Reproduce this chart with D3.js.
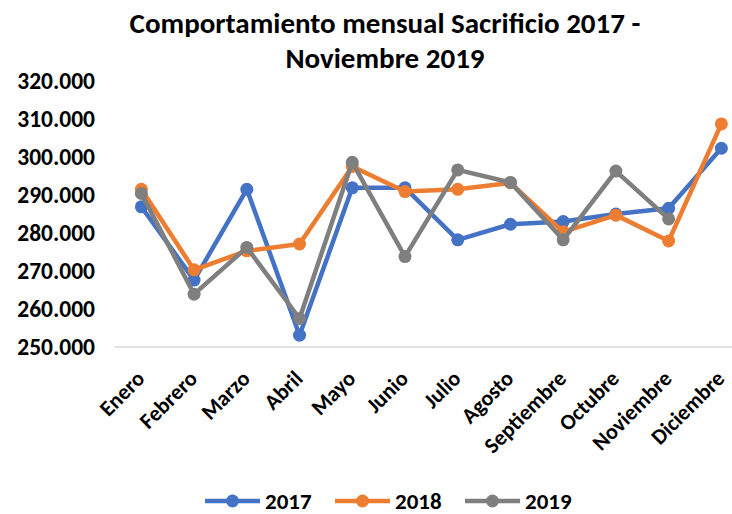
<!DOCTYPE html>
<html lang="es">
<head>
<meta charset="UTF-8">
<title>Sacrificio</title>
<script src="https://cdn.jsdelivr.net/npm/d3@7/dist/d3.min.js"></script>
<style>
  body { margin: 0; background: #fff; }
  text { font-family: Carlito, Lato, "Liberation Sans", sans-serif; font-weight: bold; fill: #000; }
</style>
</head>
<body>
<svg width="732" height="514" id="main"></svg>
<script>
    const months = ['Enero', 'Febrero', 'Marzo', 'Abril', 'Mayo', 'Junio', 'Julio', 'Agosto',
        'Septiembre', 'Octubre', 'Noviembre', 'Diciembre'];
    const v2017 = [286900, 267600, 291500, 253100, 291900, 291900, 278200, 282300, 283000, 285000, 286500, 302300];
    const v2018 = [291500, 270300, 275300, 277100, 297500, 290900, 291500, 293200, 280300, 284700, 277900, 308700];
    const v2019 = [290400, 263900, 276200, 257500, 298600, 273800, 296600, 293300, 278200, 296300, 283700];
    const yTicks = [250000, 260000, 270000, 280000, 290000, 300000, 310000, 320000];
    const seriesNames = ['2017', '2018', '2019'];
    const colors = ['#4472C4', '#ED7D31', '#7F7F7F'];

    let svg = d3.select('#main');
    const plotLeft = 115, plotBottom = 347, plotTop = 81;
    const step = 580 / 11;

    let xScale = d3.scalePoint().domain(months).range([plotLeft + step / 2, plotLeft + step * 11.5]);
    let yScale = d3.scaleLinear().domain([250000, 320000]).range([plotBottom, plotTop]);
    const fmt = v => d3.format(',')(v).replace(/,/g, '.');

    // title
    svg.append('text').attr('x', 385).attr('y', 33).attr('text-anchor', 'middle')
        .attr('font-size', 29).text('Comportamiento mensual Sacrificio 2017 -');
    svg.append('text').attr('x', 385).attr('y', 68).attr('text-anchor', 'middle')
        .attr('font-size', 29).text('Noviembre 2019');

    // y axis labels
    let yAxis = d3.axisLeft(yScale).tickValues(yTicks).tickFormat(fmt).tickSize(0).tickPadding(20);
    let yg = svg.append('g').attr('transform', `translate(${plotLeft}, 0)`).call(yAxis);
    yg.select('.domain').remove();
    yg.selectAll('text').attr('font-size', 23.5).attr('fill', '#000');

    // x axis
    let xAxis = d3.axisBottom(xScale).tickSize(0).tickPadding(0);
    let xg = svg.append('g').attr('transform', `translate(0, ${plotBottom})`).call(xAxis);
    xg.select('.domain').remove();
    xg.append('line').attr('x1', plotLeft).attr('x2', plotLeft + step * 12).attr('stroke', '#D9D9D9').attr('stroke-width', 1.5);
    xg.selectAll('.tick text')
        .attr('font-size', 22).attr('fill', '#000')
        .attr('text-anchor', 'end')
        .attr('dy', 0)
        .attr('transform', 'translate(4, 33) rotate(-45)');

    // series
    const all = [v2017, v2018, v2019];
    let line = d3.line().x((d, i) => xScale(months[i])).y(d => yScale(d));
    all.forEach((vals, k) => {
        let g = svg.append('g');
        g.append('path').datum(vals).attr('d', line).attr('fill', 'none')
            .attr('stroke', colors[k]).attr('stroke-width', 4.5).attr('stroke-linejoin', 'round');
        g.selectAll('circle').data(vals).join('circle')
            .attr('cx', (d, i) => xScale(months[i])).attr('cy', d => yScale(d))
            .attr('r', 6.5).attr('fill', colors[k]);
    });

    // legend
    const legendX = [205, 335, 465];
    seriesNames.forEach((name, k) => {
        let lg = svg.append('g').attr('transform', `translate(${legendX[k]}, 501)`);
        lg.append('line').attr('x1', 0).attr('x2', 55).attr('stroke', colors[k]).attr('stroke-width', 4.5);
        lg.append('circle').attr('cx', 27.5).attr('r', 6.5).attr('fill', colors[k]);
        lg.append('text').attr('x', 60).attr('y', 8).attr('font-size', 23).text(name);
    });
</script>
</body>
</html>
